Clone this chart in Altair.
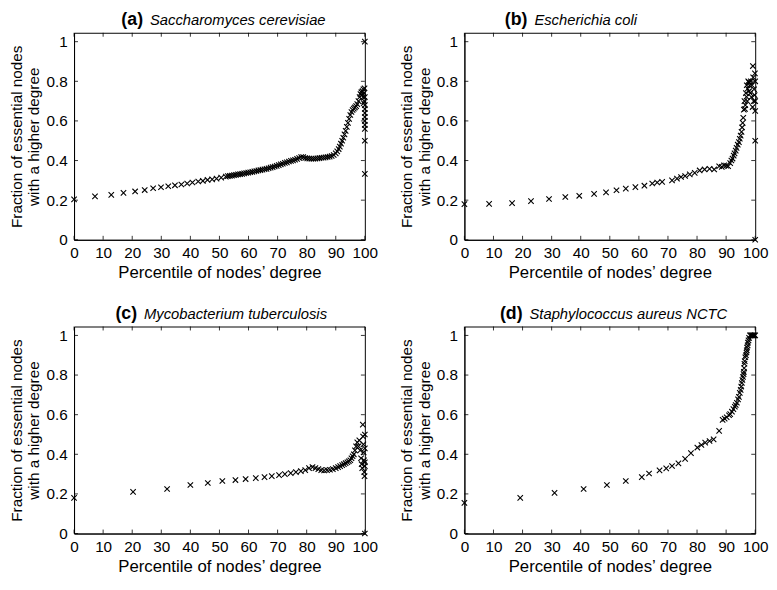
import altair as alt
import pandas as pd

W, H = 295, 210
FONT = "Liberation Sans"
XPATH = "M-1,-1L1,1M-1,1L1,-1"
XTICKS = [0, 10, 20, 30, 40, 50, 60, 70, 80, 90, 100]
YTICKS = [0, 0.2, 0.4, 0.6, 0.8, 1.0]
X_TITLE = "Percentile of nodes’ degree"
Y_TITLE = ["Fraction of essential nodes", "with a higher degree"]

# (a) Saccharomyces cerevisiae
a_x = [0, 7.2, 12.8, 17, 21, 24.3, 27.2, 29.9, 32.4, 34.7, 36.9, 38.9, 40.7, 42.7, 44.3, 45.9, 47.5, 49, 50.6, 52.2,
       52.9, 53.6, 54.3, 55.0, 55.7, 56.4, 57.1, 57.8, 58.5, 59.2, 59.9, 60.6, 61.3, 62.0, 62.7, 63.4, 64.1, 64.8,
       65.5, 66.2, 66.9, 67.6, 68.3, 69.0, 69.7, 70.4, 71.1, 71.8, 72.5, 73.2, 73.9, 74.6, 75.3, 76.0, 76.7, 77.4,
       78.1, 78.8, 79.5, 80.2, 80.9, 81.6, 82.3, 83.0, 83.7, 84.4, 85.1, 85.8, 86.5, 87.2, 87.9, 88.6, 89.3, 90.0,
       90.5, 91.0, 91.4, 91.8, 92.2, 92.6, 93.0, 93.4, 93.8, 94.2, 94.6, 95.0, 95.4, 95.8, 96.2, 96.6, 97.0, 97.4,
       97.8, 98.2, 98.5, 98.8, 99.0, 99.2, 99.4, 99.5, 99.6, 99.7, 99.8, 99.9,
       100, 100, 100, 100, 100, 100, 100, 100, 100, 100, 100]
a_y = [0.204, 0.219, 0.227, 0.237, 0.244, 0.251, 0.26, 0.265, 0.27, 0.275, 0.279, 0.284, 0.289, 0.294, 0.297, 0.302,
       0.305, 0.309, 0.314, 0.319,
       0.321, 0.323, 0.324, 0.326, 0.328, 0.33, 0.331, 0.333, 0.335, 0.337, 0.339, 0.341, 0.343, 0.345, 0.347, 0.35,
       0.352, 0.354, 0.356, 0.358, 0.361, 0.364, 0.367, 0.37, 0.373, 0.377, 0.381, 0.384, 0.388, 0.391, 0.395, 0.398,
       0.401, 0.404, 0.408, 0.413, 0.418, 0.417, 0.413, 0.411, 0.41, 0.409, 0.409, 0.41, 0.411, 0.412, 0.414, 0.415,
       0.416, 0.418, 0.42, 0.423, 0.428, 0.436,
       0.446, 0.458, 0.47, 0.485, 0.5, 0.515, 0.532, 0.55, 0.57, 0.59, 0.61, 0.63, 0.645, 0.655, 0.662, 0.668, 0.675,
       0.685, 0.70, 0.72, 0.735, 0.745, 0.73, 0.75, 0.72, 0.76, 0.69, 0.74, 0.70, 0.765,
       0.72, 0.68, 0.66, 0.64, 0.62, 0.60, 0.58, 0.56, 0.5, 0.333, 1.0]

# (b) Escherichia coli
b_x = [0, 8.5, 16.4, 22.9, 29.1, 34.7, 39.5, 44.6, 48.7, 52.3, 55.5, 58.8, 61.9, 64.6, 66.3, 68, 71.4, 73.1, 74.5,
       75.9, 77.5, 79.2, 80.9, 82.6, 84.3, 85.9, 87.6, 88.5, 89.3, 90.0, 90.7, 91.4, 91.8, 92.2, 92.6, 92.9, 93.3,
       93.6, 94.0, 94.4, 94.7, 95, 95.3, 95.5, 95.7, 95.9, 96.1, 96.3, 96.5, 96.6, 96.8, 97, 97.1, 97.3, 97.4, 97.6,
       97.8, 97.9, 98.1, 98.3, 98.5, 98.7, 98.9, 99.1, 99.2, 99.3, 99.5, 99.6, 99.8, 99.9, 100, 100, 100, 100, 100]
b_y = [0.18, 0.181, 0.185, 0.195, 0.206, 0.216, 0.222, 0.232, 0.239, 0.25, 0.258, 0.266, 0.273, 0.284, 0.289, 0.292,
       0.3, 0.309, 0.317, 0.322, 0.33, 0.338, 0.35, 0.355, 0.358, 0.355, 0.371, 0.368, 0.376, 0.374, 0.371, 0.387,
       0.40, 0.41, 0.425, 0.436, 0.45, 0.464, 0.48, 0.493, 0.51, 0.526, 0.545, 0.567, 0.59, 0.616, 0.657, 0.70,
       0.66, 0.68, 0.74, 0.722, 0.78, 0.70, 0.763, 0.80, 0.796, 0.75, 0.78, 0.74, 0.80, 0.72, 0.78, 0.67, 0.877,
       0.82, 0.70, 0.76, 0.73, 0.84, 0.65, 0.70, 0.80, 0.5, 0.0]

# (c) Mycobacterium tuberculosis
c_x = [0, 20.3, 32, 40, 46, 51, 55.5, 59, 62.5, 65.5, 68, 70.5, 72.5, 74.5, 76.3, 78, 79.5, 80.8, 82, 83, 84, 85, 86,
       87, 88, 89, 90, 90.8, 91.5, 92.2, 92.8, 93.4, 94, 94.5, 95, 95.4, 95.8, 96.2, 96.6, 97, 97.4, 97.8, 98.1,
       98.4, 98.7, 98.9, 99.1, 99.3, 99.4, 99.5, 99.6, 99.7, 99.8, 99.9, 100, 100, 100, 100, 100]
c_y = [0.18, 0.21, 0.225, 0.245, 0.255, 0.265, 0.27, 0.275, 0.28, 0.285, 0.29, 0.295, 0.30, 0.305, 0.31, 0.315, 0.32,
       0.33, 0.335, 0.33, 0.325, 0.32, 0.318, 0.32, 0.322, 0.325, 0.33, 0.335, 0.34, 0.345, 0.35, 0.355, 0.36, 0.365,
       0.37, 0.38, 0.39, 0.40, 0.42, 0.44, 0.46, 0.44, 0.47, 0.42, 0.38, 0.35, 0.33, 0.55, 0.49, 0.45, 0.41, 0.37,
       0.31, 0.29, 0.5, 0.43, 0.36, 0.34, 0.0]

# (d) Staphylococcus aureus NCTC
d_x = [0, 19.2, 31, 41, 49, 55.5, 61, 63.5, 67.1, 69.4, 71.4, 73.6, 75.9, 77.9, 80.1, 81.5, 82.8, 84.3, 85.7, 87.6,
       88.8, 89.5, 90.2, 91, 91.4, 92, 92.5, 93, 93.3, 93.7, 94.1, 94.4, 94.7, 95, 95.2, 95.4, 95.6, 95.8, 96, 96.1,
       96.2, 96.3, 96.4, 96.6, 96.8, 97, 97.1, 97.2, 97.4, 97.5, 97.7, 97.9, 98.2, 98.5, 98.8, 99.1, 99.4, 99.7, 100]
d_y = [0.155, 0.18, 0.205, 0.225, 0.245, 0.265, 0.285, 0.303, 0.319, 0.329, 0.341, 0.354, 0.377, 0.406, 0.434, 0.447,
       0.459, 0.467, 0.475, 0.518, 0.574, 0.58, 0.587, 0.597, 0.603, 0.615, 0.628, 0.64, 0.649, 0.66, 0.677, 0.69,
       0.71, 0.725, 0.742, 0.76, 0.775, 0.79, 0.805, 0.816, 0.835, 0.857, 0.87, 0.89, 0.90, 0.914, 0.925, 0.939,
       0.95, 0.964, 0.975, 0.988, 1, 1, 1, 1, 1, 1, 1]

LABELS = ["(a)", "(b)", "(c)", "(d)"]
SPECIES = ["Saccharomyces cerevisiae", "Escherichia coli", "Mycobacterium tuberculosis", "Staphylococcus aureus NCTC"]
LABEL_RIGHT = [70, 64, 64, 59]


def panel(xs, ys, label, species, lab_r):
    df = pd.DataFrame({"x": xs, "y": ys})
    xenc = alt.X("x:Q", scale=alt.Scale(domain=[0, 100], nice=False, zero=False),
                 axis=alt.Axis(values=XTICKS, title=X_TITLE, labelFlush=False, labelOverlap=False))
    yenc = alt.Y("y:Q", scale=alt.Scale(domain=[0, 1.045], nice=False),
                 axis=alt.Axis(values=YTICKS, format="~g", title=Y_TITLE, labelOverlap=False))
    pts = alt.Chart(df).mark_point(shape=XPATH, filled=False, color="black", strokeWidth=1.1,
                                   size=30, opacity=1).encode(x=xenc, y=yenc)
    xt = pd.DataFrame({"x": XTICKS})
    yt = pd.DataFrame({"y": YTICKS})
    rule = dict(color="black", strokeWidth=0.8)
    tb = alt.Chart(xt).mark_rule(**rule).encode(x=xenc, y=alt.value(H), y2=alt.value(H - 4))
    tt = alt.Chart(xt).mark_rule(**rule).encode(x=xenc, y=alt.value(0), y2=alt.value(4))
    tl = alt.Chart(yt).mark_rule(**rule).encode(y=yenc, x=alt.value(0), x2=alt.value(4))
    tr = alt.Chart(yt).mark_rule(**rule).encode(y=yenc, x=alt.value(W), x2=alt.value(W - 4))
    lab = alt.Chart(pd.DataFrame({"t": [label]})).mark_text(
        font=FONT, fontSize=18, fontWeight="bold", align="right", baseline="alphabetic", color="black"
    ).encode(text="t:N", x=alt.value(lab_r), y=alt.value(-8))
    sp = alt.Chart(pd.DataFrame({"t": [species]})).mark_text(
        font=FONT, fontSize=15, fontStyle="italic", align="left", baseline="alphabetic", color="black"
    ).encode(text="t:N", x=alt.value(lab_r + 7), y=alt.value(-8))
    return alt.layer(pts, tb, tt, tl, tr, lab, sp).properties(width=W, height=H)


panels = [panel(x, y, l, s, r) for x, y, l, s, r in
          zip([a_x, b_x, c_x, d_x], [a_y, b_y, c_y, d_y], LABELS, SPECIES, LABEL_RIGHT)]

chart = alt.vconcat(
    alt.hconcat(panels[0], panels[1], spacing=20),
    alt.hconcat(panels[2], panels[3], spacing=20),
    spacing=23,
).properties(
    padding={"left": 0, "top": -2, "right": 0, "bottom": 0}
).configure_view(
    stroke="black", strokeWidth=1
).configure_axis(
    grid=False, ticks=False, domainColor="black", domainWidth=1,
    labelFont=FONT, labelFontSize=15.5, labelColor="black",
    titleFont=FONT, titleFontWeight="normal", titleColor="black",
    titleLineHeight=18
).configure_axisX(labelPadding=6, titlePadding=4, titleFontSize=17).configure_axisY(
    labelPadding=7, titlePadding=4, titleFontSize=15.5)

chart.save("out.html", embed_options={"renderer": "svg", "actions": False})
